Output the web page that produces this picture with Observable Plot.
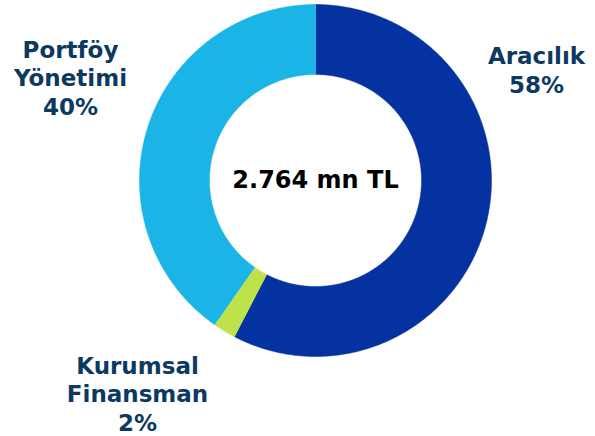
<!DOCTYPE html>
<html>
<head>
<meta charset="utf-8">
<script src="https://cdn.jsdelivr.net/npm/d3@7"></script>
<script src="https://cdn.jsdelivr.net/npm/@observablehq/plot@0.6"></script>
<style>
  html, body { margin: 0; padding: 0; background: #fff; }
  #chart svg { display: block; }
</style>
</head>
<body>
<div id="chart"></div>
<script>
// ---- data ----
const categories = ["Aracılık", "Kurumsal Finansman", "Portföy Yönetimi"];
const shares = [57.6, 2.1, 40.3];            // % of total
const shareLabels = ["58%", "2%", "40%"];
const labelLines = [["Aracılık"], ["Kurumsal", "Finansman"], ["Portföy", "Yönetimi"]];
const totalLabel = "2.764 mn TL";
const colors = ["#0432a0", "#bee34a", "#1ab5e6"];

// ---- layout ----
const W = 595, H = 436;
const cx = 315, cy = 180, rOuter = 176, rInner = 106;
const labelPos = [[536, 69], [137, 393], [70, 77]];

// build slice polygons from the data via d3.pie
const pie = d3.pie().sort(null).value(d => d.value);
const arcs = pie(categories.map((c, i) => ({ cat: c, value: shares[i] })));
const polys = [];
arcs.forEach(a => {
  const steps = Math.max(2, Math.ceil((a.endAngle - a.startAngle) / (Math.PI / 360)));
  const pts = [];
  for (let k = 0; k <= steps; k++) {
    const t = a.startAngle + (a.endAngle - a.startAngle) * k / steps;
    pts.push([cx + rOuter * Math.sin(t), cy - rOuter * Math.cos(t)]);
  }
  for (let k = steps; k >= 0; k--) {
    const t = a.startAngle + (a.endAngle - a.startAngle) * k / steps;
    pts.push([cx + rInner * Math.sin(t), cy - rInner * Math.cos(t)]);
  }
  pts.forEach(p => polys.push({ cat: a.data.cat, x: p[0], y: p[1] }));
});

const labels = categories.map((c, i) => ({
  text: [...labelLines[i], shareLabels[i]].join("\n"),
  x: labelPos[i][0], y: labelPos[i][1]
}));

const plot = Plot.plot({
  width: W, height: H,
  margin: 0,
  x: { domain: [0, W], range: [0, W], axis: null },
  y: { domain: [0, H], range: [0, H], axis: null },
  color: { domain: categories, range: colors },
  style: { fontFamily: "'DejaVu Sans', Verdana, sans-serif", background: "#fff" },
  marks: [
    Plot.line(polys, { x: "x", y: "y", z: "cat", fill: "cat", stroke: "cat", strokeWidth: 0.5, curve: "linear" }),
    Plot.text(labels, {
      x: "x", y: "y", text: "text",
      fontSize: 23, fontWeight: "bold", fill: "#0c3961",
      lineHeight: 1.22, textAnchor: "middle", lineAnchor: "middle"
    }),
    Plot.text([totalLabel], {
      x: () => cx, y: () => cy, text: d => d,
      fontSize: 24, fontWeight: "bold", fill: "#000", textAnchor: "middle", lineAnchor: "middle"
    })
  ]
});
document.getElementById("chart").appendChild(plot);
</script>
</body>
</html>
